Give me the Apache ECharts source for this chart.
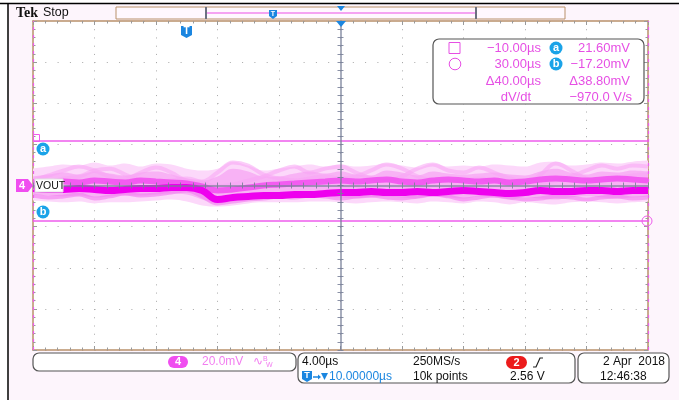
<!DOCTYPE html>
<html>
<head>
<meta charset="utf-8">
<script src="https://cdn.jsdelivr.net/npm/echarts@6/dist/echarts.min.js"></script>
<style>
html, body { margin: 0; padding: 0; background: #fff; }
#chart { width: 679px; height: 400px; }
</style>
</head>
<body>
<div id="chart"></div>
<script>
// 4 µs/div, delay 10 µs -> screen spans -10 .. 30 µs ; 20 mV/div
const timeUs = [-10, -9, -8, -7, -6, -5, -4, -3, -2, -1, 0, 1, 2, 3, 4, 5, 6, 7, 8, 9, 10,
  11, 12, 13, 14, 15, 16, 17, 18, 19, 20, 21, 22, 23, 24, 25, 26, 27, 28, 29, 30]

// persistence envelope (faint outer haze), mV
const hazeHighMv = [8.2, 9.2, 10.2, 9.7, 11.2, 9.7, 10.7, 9.2, 10.7, 10.2, 8.2, 7.3, 8.2, 11.6, 9.7, 7.3, 8.2, 9.2, 10.2, 9.2,
  10.2, 9.2, 9.7, 10.7, 9.7, 8.7, 10.7, 9.2, 9.7, 9.2, 10.2, 9.7, 9.2, 11.2, 11.6, 9.7, 10.2, 11.2, 10.7, 11.6, 12.1]
const hazeLowMv = [-7.3, -7.8, -8.2, -7.8, -8.7, -8.2, -8.2, -7.8, -7.3, -6.8, -7.8, -9.7, -10.2, -9.7, -8.7, -8.2, -8.2, -8.2, -7.8, -7.8,
  -8.2, -8.7, -8.2, -7.8, -8.2, -8.7, -7.8, -8.2, -8.7, -7.8, -8.2, -9.2, -8.2, -8.7, -9.2, -8.2, -7.8, -8.2, -8.7, -8.2, -7.8]
// denser inner band
const midHighMv = [4.4, 5.3, 6.3, 5.3, 6.8, 5.8, 4.9, 6.3, 6.8, 5.3, 3.4, 2.4, 4.4, 8.2, 6.8, 4.4, 4.4, 5.8, 6.8, 5.8,
  6.8, 5.3, 4.9, 7.3, 6.3, 4.9, 6.8, 5.8, 5.3, 5.8, 6.3, 5.3, 4.9, 6.8, 8.2, 6.3, 5.3, 6.8, 6.3, 7.3, 6.8]
const midLowMv = [-4.4, -4.9, -5.3, -4.9, -5.8, -5.3, -4.9, -4.9, -4.4, -3.9, -4.4, -6.8, -8.7, -7.8, -6.8, -6.3, -5.8, -5.8, -5.3, -5.3,
  -5.8, -6.3, -5.8, -5.3, -5.8, -6.3, -5.3, -5.8, -6.3, -5.3, -5.8, -6.8, -5.8, -6.3, -6.8, -5.8, -5.3, -5.8, -6.3, -5.8, -5.3]
// single acquisitions
const mainMv = [-1.5, -1.9, -1.9, -1.5, -1.9, -2.4, -1.9, -1.5, -1.5, -1.0, -1.0, -2.4, -6.8, -5.8, -5.3, -4.9, -4.9, -4.4, -4.4, -3.9,
  -3.4, -3.4, -2.9, -3.4, -3.4, -2.9, -3.4, -2.9, -2.4, -2.9, -3.4, -3.9, -3.4, -2.4, -2.9, -2.9, -2.4, -2.4, -2.9, -2.4, -2.4]
const upperMv = [1.0, 1.5, 1.9, 1.5, 2.4, 1.9, 1.5, 2.4, 1.9, 1.5, 1.0, -0.5, -2.4, -1.9, -1.0, 0, 0.5, 1.0, 1.5, 1.9,
  2.4, 1.9, 2.4, 2.9, 1.9, 1.5, 2.4, 2.9, 2.4, 1.9, 2.4, 1.5, 1.9, 2.9, 3.4, 2.9, 2.4, 2.9, 3.4, 2.9, 2.4]
const ghostAMv = [2.4, 4.9, 7.3, 9.2, 7.3, 4.4, 3.4, 6.3, 8.7, 6.3, 2.4, 1.9, 6.3, 11.2, 9.7, 5.3, 3.4, 2.4, 3.4, 4.4,
  3.4, 4.4, 7.3, 10.2, 8.2, 4.4, 2.4, 1.9, 2.4, 3.4, 2.4, 1.5, 0.5, 5.3, 10.7, 7.3, 3.4, 1.9, 3.4, 4.9, 5.3]
const ghostBMv = [0, 1.5, 3.4, 4.4, 7.3, 8.2, 5.3, 2.4, 1.5, 2.4, 3.4, 1.5, -0.5, 0.5, 2.4, 4.4, 7.3, 9.2, 6.3, 8.2,
  9.2, 6.3, 3.4, 2.4, 4.4, 8.2, 10.2, 7.3, 6.3, 8.7, 6.3, 3.4, 1.9, 1.5, 2.4, 4.4, 7.3, 9.7, 8.2, 9.7, 9.2]
const ghostCMv = [-4.9, -5.8, -5.3, -4.4, -6.3, -5.3, -3.9, -4.9, -4.4, -3.4, -2.4, -5.3, -8.7, -7.8, -6.8, -6.3, -5.3, -5.8, -4.9, -5.3,
  -6.3, -5.3, -4.9, -5.8, -6.3, -5.3, -4.4, -5.3, -6.8, -5.8, -4.9, -5.8, -6.8, -6.3, -5.3, -5.8, -6.8, -5.8, -5.3, -6.3, -5.8]

// cursors
const cursorTimes = [-10, 30]
const cursorLevels = [21.6, -17.2]

const BORDER = '#b9916b'
const TICK = '#9a9a9a'
const DOT = '#a8a8a8'
const CENTER = 'rgba(118,126,150,0.85)'
const PINK = '#e64fe4'
const CURSOR = '#ee5cec'
const BLUE = '#1b86e0'
const FONT = 'Liberation Sans'

const pts = arr => timeUs.map((t, i) => [t, arr[i]])

const chart = echarts.init(document.getElementById('chart'))

const txt = (x, y, s, o = {}) => ({
  type: 'text', silent: true, z: o.z || 20,
  style: {
    text: s, x, y,
    fill: o.color || '#111',
    font: (o.weight || 'normal') + ' ' + (o.size || 12) + 'px "' + (o.family || FONT) + '"',
    textAlign: o.align || 'left', align: o.align || 'left',
    textVerticalAlign: 'middle', verticalAlign: 'middle'
  }
})
const box = (x, y, w, h, r, stroke, fill, lw) => ({
  type: 'rect', silent: true, z: 15,
  shape: { x, y, width: w, height: h, r },
  style: { stroke, fill, lineWidth: lw || 1 }
})
const circ = (cx, cy, r, fill, stroke) => ({
  type: 'circle', silent: true, z: 18,
  shape: { cx, cy, r },
  style: { fill: fill || 'none', stroke: stroke || 'none', lineWidth: 1 }
})
const tIcon = (x, y, w, h) => [
  { type: 'polygon', silent: true, z: 18,
    shape: { points: [[x, y], [x + w, y], [x + w, y + h - 3], [x + w / 2, y + h], [x, y + h - 3]] },
    style: { fill: BLUE } },
  txt(x + w / 2, y + h / 2 - 0.5, 'T', { color: '#fff', weight: 'bold', size: h - 2, align: 'center', z: 19 })
]

const graphics = [
  // frame
  { type: 'rect', silent: true, z: 1, shape: { x: 0, y: 0, width: 8, height: 400 }, style: { fill: '#fff' } },
  { type: 'rect', silent: true, z: 1, shape: { x: 0, y: 0, width: 679, height: 3 }, style: { fill: '#fff' } },
  { type: 'line', silent: true, z: 2, shape: { x1: 0, y1: 3.5, x2: 679, y2: 3.5 }, style: { stroke: '#000', lineWidth: 1.5 } },
  { type: 'line', silent: true, z: 2, shape: { x1: 8, y1: 3, x2: 8, y2: 400 }, style: { stroke: '#000', lineWidth: 1.5 } },
  // header
  txt(16, 13, 'Tek', { weight: 'bold', size: 14, family: 'Liberation Serif' }),
  txt(43, 13, 'Stop', { size: 12.5 }),
  box(116, 7, 449, 12, 0, BORDER, '#fff8fe'),
  { type: 'line', silent: true, z: 16, shape: { x1: 207, y1: 13, x2: 475, y2: 13 }, style: { stroke: '#f5a3f2', lineWidth: 2 } },
  { type: 'line', silent: true, z: 16, shape: { x1: 206, y1: 7, x2: 206, y2: 19 }, style: { stroke: '#6b7080', lineWidth: 2 } },
  { type: 'line', silent: true, z: 16, shape: { x1: 476, y1: 7, x2: 476, y2: 19 }, style: { stroke: '#6b7080', lineWidth: 2 } },
  { type: 'polygon', silent: true, z: 17, shape: { points: [[337, 6], [345, 6], [341, 11]] }, style: { fill: BLUE } },
  ...tIcon(269, 10, 8, 9),
  // grid markers
  { type: 'polygon', silent: true, z: 17, shape: { points: [[336, 21], [346, 21], [341, 27]] }, style: { fill: BLUE } },
  ...tIcon(181, 26, 11, 12),
  // channel 4 ground marker + label
  { type: 'polygon', silent: true, z: 17,
    shape: { points: [[16, 179], [28, 179], [33, 185.5], [28, 192], [16, 192]] },
    style: { fill: '#f04ef0' } },
  txt(22, 186, '4', { color: '#fff', weight: 'bold', size: 11, align: 'center' }),
  box(35, 179, 28, 13, 0, '#e0e0e0', '#fff'),
  txt(36, 186, 'VOUT', { size: 10.5, z: 21 }),
  // cursor badges
  circ(43, 149, 6.5, '#1aa3e8'),
  txt(43, 149, 'a', { color: '#fff', weight: 'bold', size: 11, align: 'center' }),
  circ(43, 212, 6.5, '#1aa3e8'),
  txt(43, 212, 'b', { color: '#fff', weight: 'bold', size: 11, align: 'center' }),
  { type: 'rect', silent: true, z: 18, shape: { x: 33.5, y: 134.5, width: 6, height: 7 }, style: { stroke: CURSOR, fill: 'none' } },
  circ(647, 221, 5, 'none', CURSOR),
  // cursor readout
  box(433, 39, 211, 65, 6, '#555', '#fff', 1.2),
  { type: 'rect', silent: true, z: 18, shape: { x: 449, y: 42.5, width: 11, height: 11 }, style: { stroke: PINK, fill: 'none' } },
  circ(455, 64, 5.8, 'none', PINK),
  txt(541, 48, '\u221210.00\u00b5s', { color: PINK, size: 13, align: 'right' }),
  circ(556, 48, 6.5, '#1aa3e8'),
  txt(556, 48, 'a', { color: '#fff', weight: 'bold', size: 11, align: 'center' }),
  txt(630, 48, '21.60mV', { color: PINK, size: 13, align: 'right' }),
  txt(541, 64, '30.00\u00b5s', { color: PINK, size: 13, align: 'right' }),
  circ(556, 64, 6.5, '#1aa3e8'),
  txt(556, 64, 'b', { color: '#fff', weight: 'bold', size: 11, align: 'center' }),
  txt(630, 64, '\u221217.20mV', { color: PINK, size: 13, align: 'right' }),
  txt(541, 81, '\u039440.00\u00b5s', { color: PINK, size: 13, align: 'right' }),
  txt(630, 81, '\u039438.80mV', { color: PINK, size: 13, align: 'right' }),
  txt(531, 97, 'dV/dt', { color: PINK, size: 13, align: 'right' }),
  txt(632, 97, '\u2212970.0 V/s', { color: PINK, size: 13, align: 'right' }),
  // status bar
  box(33, 353, 263, 18, 6, '#555', '#fff', 1.2),
  box(168, 356, 20, 12, 6, 'none', '#f04ef0'),
  txt(178, 362, '4', { color: '#fff', weight: 'bold', size: 11, align: 'center' }),
  txt(202, 362, '20.0mV', { color: '#f27ef0', size: 12 }),
  txt(253, 362, '\u223f', { color: '#f27ef0', size: 12 }),
  txt(263, 359, 'B', { color: '#f27ef0', size: 7 }),
  txt(266, 365, 'W', { color: '#f27ef0', size: 7 }),
  box(298, 353, 277, 30, 6, '#555', '#fff', 1.2),
  txt(302, 362, '4.00\u00b5s', { size: 12 }),
  txt(413, 362, '250MS/s', { size: 12 }),
  ...tIcon(302, 371, 10, 11),
  { type: 'line', silent: true, z: 18, shape: { x1: 313, y1: 377, x2: 319, y2: 377 }, style: { stroke: BLUE, lineWidth: 1.5 } },
  { type: 'polygon', silent: true, z: 18, shape: { points: [[318, 374.5], [321, 377], [318, 379.5]] }, style: { fill: BLUE } },
  { type: 'polygon', silent: true, z: 18, shape: { points: [[321, 373], [328, 373], [324.5, 380]] }, style: { fill: BLUE } },
  txt(329, 377, '10.00000\u00b5s', { color: BLUE, size: 12 }),
  txt(413, 377, '10k points', { size: 12 }),
  box(506, 356, 21, 13, 6.5, 'none', '#ec1b1b'),
  txt(516.5, 362.5, '2', { color: '#fff', weight: 'bold', size: 11, align: 'center' }),
  { type: 'polyline', silent: true, z: 18, shape: { points: [[533, 367], [536, 367], [540, 358], [543, 358]] }, style: { stroke: '#222', lineWidth: 1.2, fill: 'none' } },
  txt(510, 377, '2.56 V', { size: 12 }),
  box(578, 353, 91, 30, 6, '#555', '#fff', 1.2),
  txt(665, 362, '2 Apr  2018', { size: 12, align: 'right' }),
  txt(600, 377, '12:46:38', { size: 12 })
]

const divAxis = (extra) => Object.assign({
  type: 'value', min: -5, max: 5, interval: 1,
  axisLabel: { show: false },
  splitLine: { show: false },
  axisLine: { show: true, onZero: false, lineStyle: { color: BORDER, width: 1.5 } },
  axisTick: { show: true, inside: true, length: 4, lineStyle: { color: TICK } },
  minorTick: { show: true, splitNumber: 5, length: 2.5, lineStyle: { color: TICK } }
}, extra)

const vAxis = (extra) => Object.assign({
  type: 'value', min: -80, max: 80, interval: 20,
  axisLabel: { show: false },
  splitLine: { show: false },
  axisLine: { show: true, onZero: false, lineStyle: { color: BORDER, width: 1.5 } },
  axisTick: { show: true, inside: true, length: 4, lineStyle: { color: TICK } },
  minorTick: { show: true, splitNumber: 5, length: 2.5, lineStyle: { color: TICK } }
}, extra)

const centerLine = { show: true, onZero: true, onZeroAxisIndex: 0, lineStyle: { color: CENTER, width: 1.5 } }
const centerTick = (inside) => ({ show: true, inside, length: 3, lineStyle: { color: CENTER } })
const centerMinor = { show: true, splitNumber: 5, length: 3, lineStyle: { color: CENTER } }

const area = (name, data, color) => ({
  name, type: 'line', xAxisIndex: 4, yAxisIndex: 0, data: pts(data),
  smooth: 0.4, symbol: 'none', silent: true,
  lineStyle: { width: 0 }, areaStyle: { color, opacity: 1 }
})
const trace = (name, data, color, width, opacity) => ({
  name, type: 'line', xAxisIndex: 4, yAxisIndex: 0, data: pts(data),
  smooth: 0.4, symbol: 'none', silent: true,
  lineStyle: { color, width, opacity }
})

const mainSeries = trace('main', mainMv, '#ee00ee', 7, 1)
mainSeries.markLine = {
  silent: true, symbol: 'none', label: { show: false },
  data: [
    { yAxis: cursorLevels[0], lineStyle: { color: CURSOR, width: 1.5, type: 'solid' } },
    { yAxis: cursorLevels[1], lineStyle: { color: CURSOR, width: 1.5, type: 'solid' } },
    { xAxis: cursorTimes[0], lineStyle: { color: CURSOR, width: 1.2, type: [3, 5] } },
    { xAxis: cursorTimes[1], lineStyle: { color: CURSOR, width: 1.2, type: [3, 5] } }
  ]
}

chart.setOption({
  animation: false,
  backgroundColor: '#fdf5fc',
  grid: { left: 33, right: 31, top: 21, bottom: 50, show: true, backgroundColor: '#fff', borderWidth: 0 },
  xAxis: [
    divAxis({ position: 'bottom', splitLine: { show: true, lineStyle: { color: DOT, width: 1, type: [1, 7.23] } } }),
    divAxis({ position: 'top' }),
    divAxis({ position: 'bottom', z: 5, axisLine: centerLine, axisTick: centerTick(false), minorTick: centerMinor }),
    divAxis({ position: 'bottom', z: 5, axisLine: { show: false, onZero: true, onZeroAxisIndex: 0 }, axisTick: centerTick(true), minorTick: centerMinor }),
    { type: 'value', min: timeUs[0], max: timeUs[timeUs.length - 1], show: false }
  ],
  yAxis: [
    vAxis({ position: 'left', splitLine: { show: true, lineStyle: { color: DOT, width: 1, type: [1, 11.3] } } }),
    vAxis({ position: 'right' }),
    vAxis({ position: 'left', z: 5, axisLine: centerLine, axisTick: centerTick(false), minorTick: centerMinor }),
    vAxis({ position: 'left', z: 5, axisLine: { show: false, onZero: true, onZeroAxisIndex: 0 }, axisTick: centerTick(true), minorTick: centerMinor })
  ],
  series: [
    area('hazeHigh', hazeHighMv, '#fcd8fa'),
    area('hazeLow', hazeLowMv, '#fcd8fa'),
    area('midHigh', midHighMv, '#f8b2f5'),
    area('midLow', midLowMv, '#f8b2f5'),
    trace('ghostA', ghostAMv, '#f7a4f4', 4, 0.55),
    trace('ghostB', ghostBMv, '#f7a4f4', 4, 0.55),
    trace('ghostC', ghostCMv, '#f27cf0', 4, 0.6),
    trace('upper', upperMv, '#f24cf0', 6, 0.85),
    mainSeries
  ],
  graphic: { elements: graphics }
})
</script>
</body>
</html>
